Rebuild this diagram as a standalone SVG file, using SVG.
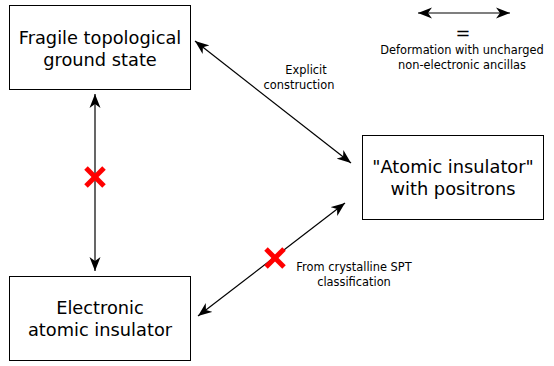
<svg xmlns="http://www.w3.org/2000/svg" width="554" height="366" viewBox="0 0 554 366">
<style>
.box{fill:#fff;stroke:#000;stroke-width:1}
.t{font-family:"DejaVu Sans",sans-serif;font-size:17.8px;fill:#000;text-anchor:middle}
.s{font-family:"DejaVu Sans",sans-serif;font-size:11.4px;fill:#000;text-anchor:middle}
.c{stroke:#000;stroke-width:1.2;fill:none;marker-start:url(#a);marker-end:url(#a)}
.x{stroke:#f00;stroke-width:5}
</style>
<defs>
<marker id="a" viewBox="-14 -6 15 12" markerWidth="15" markerHeight="12" refX="0" refY="0" orient="auto-start-reverse" markerUnits="userSpaceOnUse">
<path d="M0,0 L-14,-5.5 L-10,0 L-14,5.5 Z" fill="#000"/>
</marker>
</defs>
<rect width="554" height="366" fill="#fff"/>
<g id="fragile">
<rect class="box" x="9.5" y="5.5" width="181" height="84"/>
<text class="t" x="100" y="44">Fragile topological</text>
<text class="t" x="100" y="66">ground state</text>
</g>
<g id="electronic">
<rect class="box" x="9.5" y="276.5" width="181" height="84"/>
<text class="t" x="100" y="314">Electronic</text>
<text class="t" x="100" y="336">atomic insulator</text>
</g>
<g id="positron">
<rect class="box" x="362.5" y="135.5" width="181" height="84"/>
<text class="t" x="453" y="173">"Atomic insulator"</text>
<text class="t" x="453" y="195">with positrons</text>
</g>
<g id="legend">
<line class="c" x1="418" y1="13" x2="510" y2="13"/>
<text class="t" x="463" y="39">=</text>
<text class="s" x="462" y="54">Deformation with uncharged</text>
<text class="s" x="462" y="69">non-electronic ancillas</text>
</g>
<g id="connectors">
<line class="c" x1="195" y1="41" x2="351" y2="163"/>
<line class="c" x1="95" y1="94" x2="95" y2="271"/>
<line class="c" x1="345" y1="203" x2="198" y2="316"/>
<text class="s" x="306" y="74">Explicit</text>
<text class="s" x="299" y="89">construction</text>
<text class="s" x="354" y="271">From crystalline SPT</text>
<text class="s" x="354" y="286">classification</text>
<g class="x">
<line x1="86" y1="168" x2="104" y2="186"/>
<line x1="104" y1="168" x2="86" y2="186"/>
<line x1="266" y1="249" x2="284" y2="267"/>
<line x1="284" y1="249" x2="266" y2="267"/>
</g>
</g>
</svg>
